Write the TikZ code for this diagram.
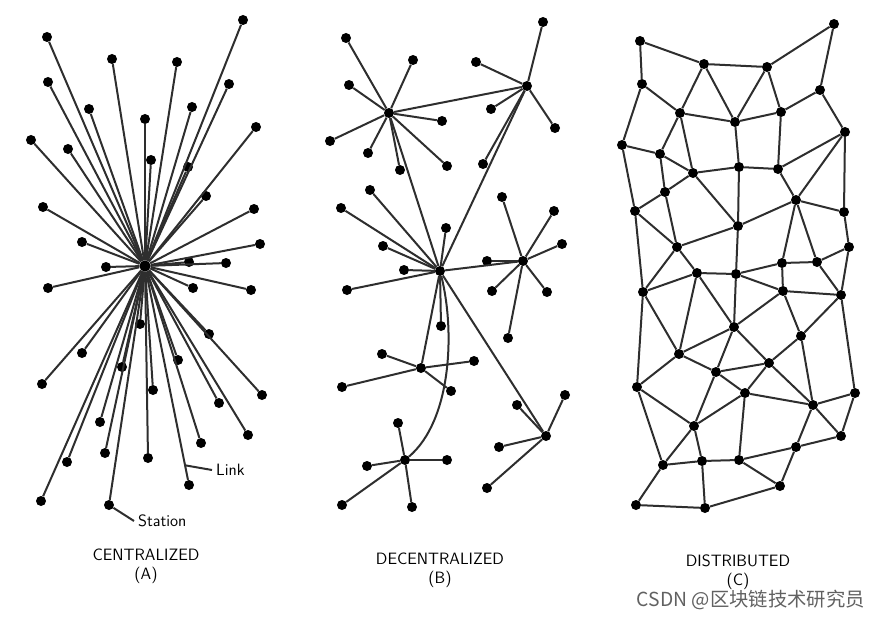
\documentclass[tikz,border=0pt]{standalone}
\usepackage{fontspec}
\newfontfamily\cjkfont{Noto Sans CJK SC}
\usetikzlibrary{positioning}

\begin{document}
\begin{tikzpicture}[
  x=0.03cm, y=-0.03cm,
  station/.style={circle, fill=black, inner sep=0pt, minimum size=0.3cm},
  hub/.style={circle, fill=black, inner sep=0pt, minimum size=0.34cm},
  link/.style={line width=0.06cm, draw=black!82},
  caption/.style={font=\fontsize{14}{16}\selectfont\sffamily, align=center},
  note/.style={font=\fontsize{14}{16}\selectfont\sffamily}
]
\useasboundingbox (0,0) rectangle (884,618);

% (A) centralized: every station tied to one centre
\node[hub] (a0) at (145,266) {};
\foreach \n/\x/\y in {1/47/37, 2/112/59, 3/48/82, 4/89/109, 5/145/119, 6/151/160,
    7/31/140, 8/68/149, 9/43/207, 10/82/242, 11/106/267, 12/243/20, 13/177/62,
    14/229/84, 15/192/107, 16/256/127, 17/188/167, 18/206/196, 19/254/209,
    20/260/244, 21/189/262, 22/226/263, 23/48/288, 24/140/324, 25/82/353,
    26/122/367, 27/42/384, 28/153/390, 29/100/422, 30/105/453, 31/148/458,
    32/67/462, 33/41/501, 34/109/505, 35/193/288, 36/251/290, 37/209/334,
    38/178/360, 39/262/395, 40/219/403, 41/248/435, 42/201/443, 43/189/485}
  \node[station] (a\n) at (\x,\y) {};
\foreach \n in {1,...,43}
  \draw[link] (a0) -- (a\n);

\node[note, anchor=west] (stationlbl) at (134,521) {Station};
\draw[link] (a34) -- (stationlbl.west);
\path (a0) -- (a43) coordinate[pos=0.93] (linkpt);
\node[note, anchor=west] (linklbl) at (212,470) {Link};
\draw[link] (linkpt) -- (linklbl.west);

\node[caption] (capA) at (146,566) {CENTRALIZED\\(A)};

% (B) decentralized: hubs with their own stations
\foreach \n/\x/\y in {1/389/113, 2/527/86, 3/440/271, 4/523/261, 5/421/368,
    6/405/460, 7/546/436}
  \node[station] (h\n) at (\x,\y) {};
\foreach \h/\n/\x/\y in {1/1/346/38, 1/2/413/60, 1/3/349/85, 1/4/330/141,
    1/5/368/153, 1/6/442/121, 1/7/400/170, 1/8/447/166,
    2/9/543/22, 2/10/476/62, 2/11/555/128, 2/12/491/109, 2/13/483/164,
    3/14/370/190, 3/15/341/208, 3/16/383/246, 3/17/446/228, 3/18/404/270,
    3/19/347/290, 3/20/441/326,
    4/21/502/197, 4/22/554/211, 4/23/562/244, 4/24/487/261, 4/25/492/291,
    4/26/547/292, 4/27/508/338,
    5/28/382/354, 5/29/342/387, 5/30/451/391, 5/31/474/361,
    6/32/398/423, 6/33/367/466, 6/34/447/460, 6/35/342/505, 6/36/412/507,
    7/37/565/395, 7/38/517/405, 7/39/499/447, 7/40/487/488} {
  \node[station] (b\n) at (\x,\y) {};
  \draw[link] (h\h) -- (b\n);
}
\foreach \u/\v in {1/2, 1/3, 2/3, 3/4, 3/5, 3/7}
  \draw[link] (h\u) -- (h\v);
\draw[link] (h3) .. controls (455,330) and (452,420) .. (h6);

\node[caption] (capB) at (440,570) {DECENTRALIZED\\(B)};

% (C) distributed: a mesh
\foreach \n/\x/\y in {1/640/41, 2/704/64, 3/767/67, 4/834/24, 5/642/84,
    6/820/90, 7/680/113, 8/735/122, 9/781/112, 10/845/132, 11/622/145,
    12/660/154, 13/693/173, 14/739/167, 15/778/169, 16/665/192, 17/796/200,
    18/635/211, 19/738/226, 20/844/212, 21/677/247, 22/849/247, 23/697/273,
    24/736/274, 25/782/263, 26/817/262, 27/643/292, 28/783/291, 29/841/295,
    30/734/327, 31/801/336, 32/679/354, 33/716/372, 34/769/363, 35/637/387,
    36/745/393, 37/855/393, 38/813/405, 39/694/426, 40/841/436, 41/663/465,
    42/702/461, 43/739/460, 44/796/447, 45/780/486, 46/636/505, 47/705/508}
  \node[station] (c\n) at (\x,\y) {};
\foreach \u/\v in {1/2, 1/5, 2/3, 2/7, 2/8, 3/4, 3/8, 3/9, 4/6, 5/7, 5/11,
    6/9, 6/10, 7/8, 7/12, 7/13, 8/9, 8/14, 9/15, 10/15, 10/17, 10/20,
    11/12, 11/18, 12/13, 12/16, 13/14, 13/16, 13/19, 14/15, 14/19, 15/17,
    16/18, 16/21, 17/19, 17/20, 17/25, 17/26, 18/21, 18/27, 19/21, 19/24,
    20/22, 21/23, 21/27, 22/26, 22/29, 23/24, 23/27, 23/30, 23/32, 24/25,
    24/28, 24/30, 25/26, 25/28, 26/29, 27/32, 27/35, 28/29, 28/30, 28/31,
    29/31, 29/37, 30/32, 30/33, 30/34, 31/34, 31/38, 32/33, 32/35, 33/34,
    33/36, 33/39, 34/36, 34/38, 35/39, 35/41, 36/38, 36/39, 36/43, 37/38,
    37/40, 38/40, 38/44, 39/41, 39/42, 40/44, 41/42, 41/46, 42/43, 42/47,
    43/44, 43/45, 44/45, 45/47, 46/47}
  \draw[link] (c\u) -- (c\v);

\node[caption] (capC) at (738,572) {DISTRIBUTED\\(C)};

\node[font=\fontsize{16.5}{18}\selectfont\cjkfont, text=black!62, anchor=east] (mark) at (869,600) {CSDN @区块链技术研究员};
\end{tikzpicture}
\end{document}
